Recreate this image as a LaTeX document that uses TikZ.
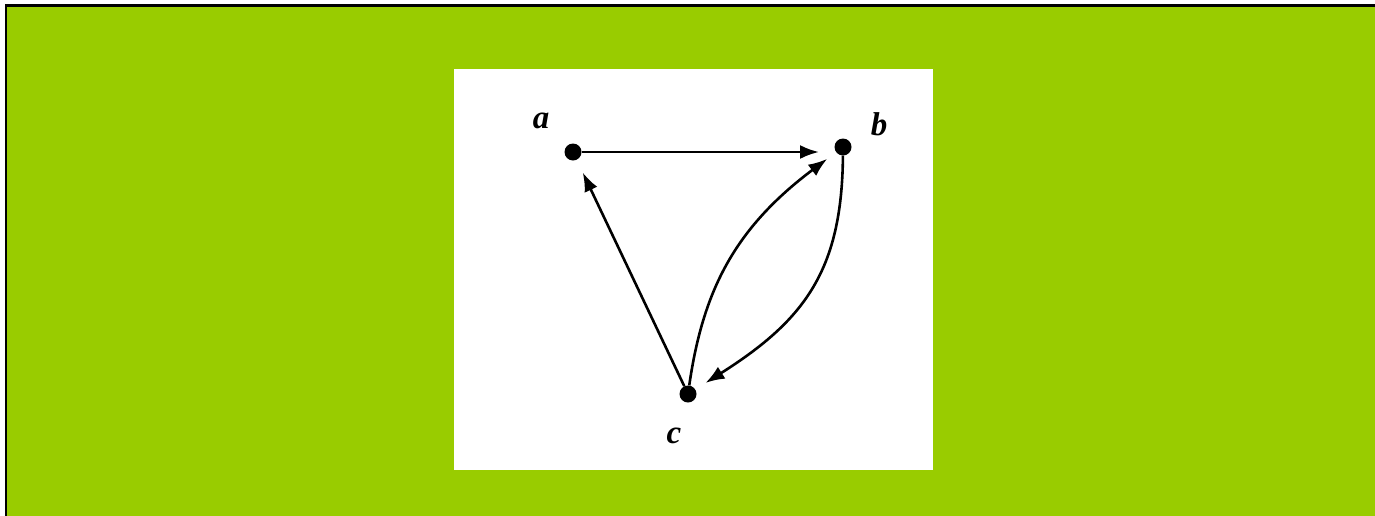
\documentclass[tikz,border=0pt]{standalone}
\usepackage{fontspec}
\setmainfont{Liberation Serif}
\usetikzlibrary{arrows.meta}
\definecolor{bggreen}{HTML}{99CC00}
\tikzset{
  dot/.style={circle, fill=black, inner sep=0pt, minimum size=17pt},
  arr/.style={line width=2.6pt, -{Latex[length=19pt,width=14pt]}},
  lbl/.style={font=\fontsize{33}{33}\selectfont\bfseries\itshape, inner sep=0pt}
}
\begin{document}
\begin{tikzpicture}[x=1pt,y=-1pt]
\useasboundingbox (0,0) rectangle (1375,515);
\fill[white] (0,0) rectangle (1375,515);
\path[fill=bggreen, draw=black, line width=2.5pt] (6,5.3) rectangle (1385,525);
\fill[white] (454,69) rectangle (933,470);
\node[dot] (a) at (573,152) {};
\node[dot] (b) at (843,147) {};
\node[dot] (c) at (688,394) {};
\node[lbl] (la) at (541,121) {a};
\node[lbl] (lb) at (879,124) {b};
\node[lbl] (lc) at (674,436) {c};
\coordinate (abend) at (a -| b);
\draw[arr, shorten >=24pt] (a) -- (abend);
\draw[arr, shorten >=14pt] (c) -- (a);
\draw[arr, shorten >=11pt] (c) .. controls (703,290) and (735,228) .. (b);
\draw[arr, shorten >=12pt] (b) .. controls (842,270) and (805,320) .. (c);
\end{tikzpicture}
\end{document}
